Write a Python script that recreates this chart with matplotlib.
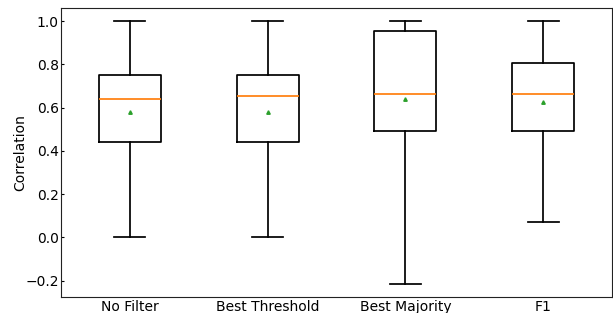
import matplotlib
matplotlib.use('Agg')
import matplotlib.pyplot as plt

labels = ['No Filter', 'Best Threshold', 'Best Majority', 'F1']
whislo = [0.0, 0.0, -0.215, 0.069]
q1 = [0.44, 0.44, 0.491, 0.491]
med = [0.638, 0.656, 0.665, 0.665]
q3 = [0.752, 0.752, 0.954, 0.807]
whishi = [1.0, 1.0, 1.0, 1.0]
means = [0.578, 0.578, 0.638, 0.624]

stats = []
for i in range(len(labels)):
    stats.append({'label': labels[i], 'whislo': whislo[i], 'q1': q1[i],
                  'med': med[i], 'q3': q3[i], 'whishi': whishi[i],
                  'mean': means[i], 'fliers': []})

fig = plt.figure(figsize=(6.13, 3.13), dpi=100)
ax = fig.add_axes([61 / 613, 1 - 297 / 313, 551 / 613, 289 / 313])
lw = 1.25
ax.bxp(stats, showmeans=True,
       boxprops=dict(linewidth=lw),
       whiskerprops=dict(linewidth=lw),
       capprops=dict(linewidth=lw),
       medianprops=dict(linewidth=lw, color='#ff7f0e'),
       meanprops=dict(marker='^', markersize=2.5, markerfacecolor='tab:green',
                      markeredgecolor='tab:green'))
ax.set_ylabel('Correlation', fontsize=10, labelpad=-1)
ax.tick_params(direction='in', labelsize=10, length=2, pad=1.5)
ax.tick_params(axis='x', length=0, pad=2)
for s in ax.spines.values():
    s.set_color('#222222')

fig.savefig('out.png', dpi=100)
